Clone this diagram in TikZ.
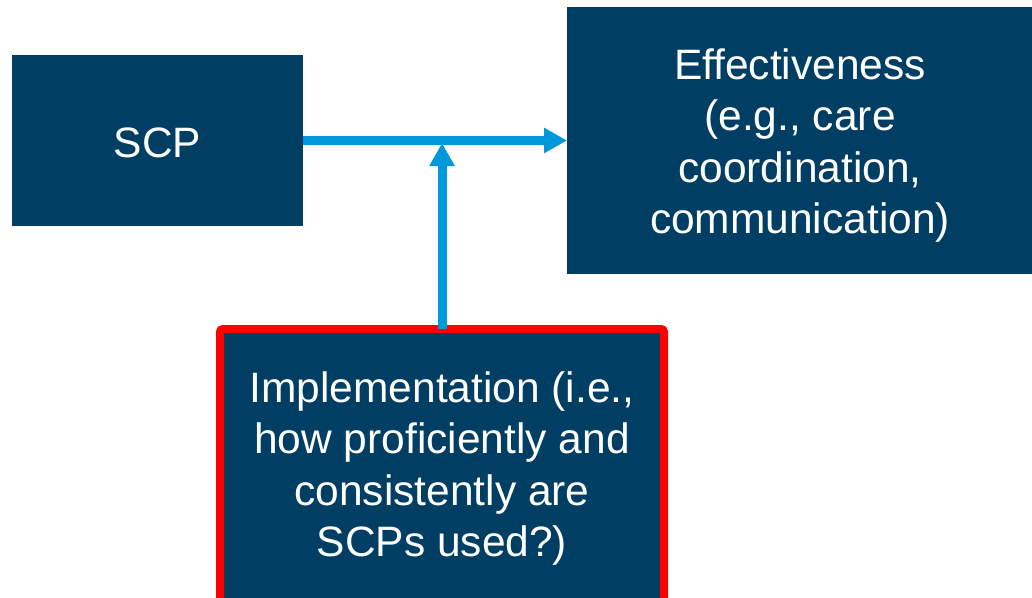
\documentclass[tikz,border=0pt]{standalone}
\usepackage{fontspec}
\setmainfont{Liberation Sans}
\usetikzlibrary{arrows.meta}
\definecolor{navy}{HTML}{003F63}
\definecolor{arrowblue}{HTML}{0098D8}
\begin{document}
\begin{tikzpicture}[x=1pt,y=-1pt,
  box/.style={fill=navy, inner sep=0pt, outer sep=0pt},
  boxtext/.style={text=white, align=center, inner sep=0pt,
    font=\fontsize{42.5}{51.5}\selectfont},
  conn/.style={draw=arrowblue, line width=9pt, -{Triangle[length=23pt,width=24pt]}}]
\useasboundingbox (0,0) rectangle (1032,597);
\clip (0,0) rectangle (1032,597);
\node[box, minimum width=291pt, minimum height=171pt] (scp) at (157.5,140.5) {};
\node[boxtext] (scptext) at (157.5,142.5) {SCP};
\node[box, minimum width=466pt, minimum height=267pt] (eff) at (800,140.5) {};
\node[boxtext] (efftext) at (800,145.5)
  {Effectiveness\\(e.g., care\\coordination,\\communication)};
\node[box, draw=red, line width=8pt, rounded corners=3pt, minimum width=444pt, minimum height=274pt]
  (impl) at (442,466) {};
\node[boxtext] (impltext) at (442,468.5)
  {Implementation (i.e.,\\how proficiently and\\consistently are\\SCPs used?)};
\coordinate (junction) at (442,143);
\draw[conn] (scp.east) -- (eff.west);
\draw[conn] (impl.north) -- (junction);
\end{tikzpicture}
\end{document}
